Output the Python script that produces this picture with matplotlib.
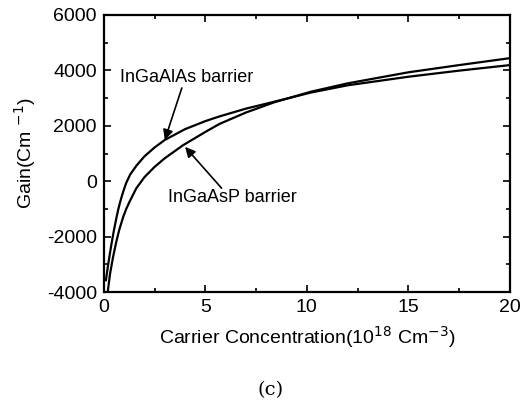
import numpy as np
import matplotlib
matplotlib.use("Agg")
import matplotlib.pyplot as plt
from matplotlib.ticker import MultipleLocator

# values
alas_x = [0.1, 0.2, 0.3, 0.4, 0.5, 0.6, 0.7, 0.8, 0.9, 1.0, 1.1, 1.3, 1.6, 2.0, 2.5, 3.0, 4.0, 5.0, 5.7, 7.0, 8.4, 10.2, 12.0, 15.0, 17.5, 20.0]
alas_y = [-3570, -3060, -2590, -2150, -1750, -1380, -1040, -750, -500, -270, -60, 250, 560, 900, 1220, 1490, 1880, 2170, 2340, 2620, 2870, 3200, 3460, 3770, 3990, 4190]

asp_x = [0.2, 0.3, 0.45, 0.6, 0.75, 0.95, 1.1, 1.25, 1.4, 1.6, 2.0, 2.5, 3.0, 3.9, 5.0, 5.7, 7.0, 8.4, 10.2, 12.0, 15.0, 17.5, 20.0]
asp_y = [-3930, -3350, -2740, -2220, -1770, -1290, -1000, -760, -540, -250, 150, 520, 830, 1300, 1780, 2070, 2480, 2850, 3230, 3530, 3930, 4190, 4440]

xticks = [0, 5, 10, 15, 20]
yticks = [-4000, -2000, 0, 2000, 4000, 6000]

plt.rcParams['font.family'] = ['Liberation Sans', 'DejaVu Sans']
plt.rcParams['axes.unicode_minus'] = False

fig = plt.figure(figsize=(5.3, 4.03), dpi=100)
ax = fig.add_axes([0.196, 0.275, 0.766, 0.688])

ax.plot(alas_x, alas_y, color='black', lw=1.6)
ax.plot(asp_x, asp_y, color='black', lw=1.6)

ax.set_xlim(0, 20)
ax.set_ylim(-4000, 6000)
ax.set_xticks(xticks)
ax.set_yticks(yticks)
ax.xaxis.set_minor_locator(MultipleLocator(2.5))
ax.yaxis.set_minor_locator(MultipleLocator(1000))
ax.tick_params(which='both', direction='in', top=True, right=True, labelsize=14, width=1.2, pad=5)
ax.tick_params(which='major', length=5)
ax.tick_params(which='minor', length=3)
for s in ax.spines.values():
    s.set_linewidth(1.6)

ax.set_xlabel(r'Carrier Concentration(10$^{18}$ Cm$^{-3}$)', fontsize=14, labelpad=6)
ax.set_ylabel(r'Gain(Cm $^{-1}$)', fontsize=14, labelpad=6)

# annotations
arrow = dict(arrowstyle='-|>', color='black', lw=1.2, mutation_scale=15, shrinkA=0, shrinkB=0)
ax.text(0.8, 3760, 'InGaAlAs barrier', fontsize=13, ha='left', va='center')
ax.annotate('', xy=(3.0, 1490), xytext=(3.84, 3365), arrowprops=arrow)
ax.text(3.15, -600, 'InGaAsP barrier', fontsize=13, ha='left', va='center')
ax.annotate('', xy=(4.0, 1240), xytext=(5.8, -250), arrowprops=arrow)

fig.text(0.51, 0.033, '(c)', fontsize=14, family='DejaVu Serif', ha='center', va='center')

fig.savefig('out.png', dpi=100)
